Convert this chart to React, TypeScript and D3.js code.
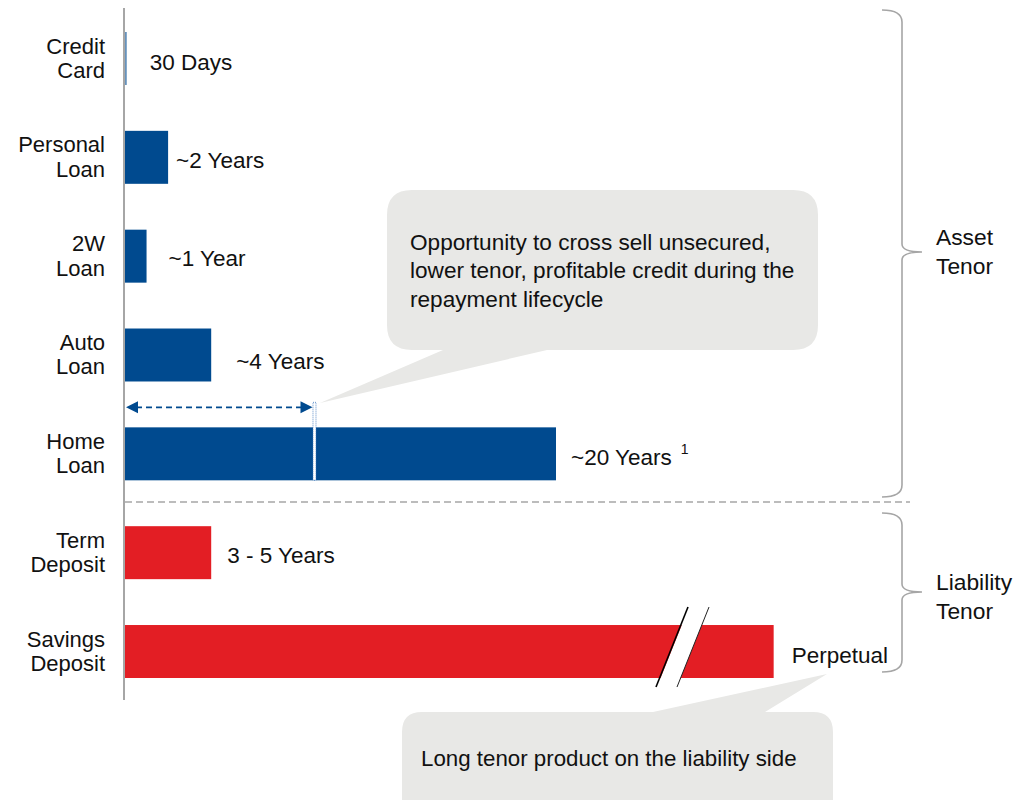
import React from "react";
import * as d3 from "d3";

// Product categories (two-line labels) and their typical tenor in years
const categories = [
  ["Credit", "Card"],
  ["Personal", "Loan"],
  ["2W", "Loan"],
  ["Auto", "Loan"],
  ["Home", "Loan"],
  ["Term", "Deposit"],
  ["Savings", "Deposit"],
];
const tenorYears = [30 / 365, 2, 1, 4, 20, 4, 30.1]; // savings shown capped (perpetual, broken bar)
const valueLabels = ["30 Days", "~2 Years", "~1 Year", "~4 Years", "~20 Years", "3 - 5 Years", "Perpetual"];
const sides = ["asset", "asset", "asset", "asset", "asset", "liability", "liability"];
const crossSellYears = 8.7; // span of the dashed arrow on the home loan
const groupLabels = [["Asset", "Tenor"], ["Liability", "Tenor"]];
const calloutTop = ["Opportunity to cross sell unsecured,", "lower tenor, profitable credit during the", "repayment lifecycle"];
const calloutBottom = "Long tenor product on the liability side";

const W = 1034;
const H = 800;
const BLUE = "#004a8f";
const RED = "#e31e24";
const GREY = "#a6a6a6";
const BUBBLE = "#e8e8e6";
const FONT = "'Liberation Sans', Arial, sans-serif";

// Per-label nudges for the value texts
const labelDx = [23, 8, 22, 25, 15, 16, 18];
const labelDy = [4, 3, 2, 6, 3, 2, 4];

export default function App() {
  const x = d3.scaleLinear().domain([0, 20]).range([125, 556]);
  const y = d3
    .scaleBand<number>()
    .domain(d3.range(categories.length))
    .range([32, 678])
    .paddingInner(0.464)
    .paddingOuter(0);
  const bw = y.bandwidth();
  const cy = (i: number) => (y(i) as number) + bw / 2;

  const homeIdx = 4;
  const savIdx = 6;
  const arrowY = (y(homeIdx) as number) - 20;
  const arrowX1 = x(0) + 1;
  const arrowX2 = x(crossSellYears);

  // Brace path: vertical bracket with a pointed middle toward the right
  const brace = (top: number, mid: number, bottom: number) => {
    const x0 = 882, x1 = 902, tip = 922;
    return `M${x0},${top} Q${x1},${top} ${x1},${top + 12} L${x1},${mid - 8} Q${x1},${mid} ${tip},${mid} Q${x1},${mid} ${x1},${mid + 8} L${x1},${bottom - 12} Q${x1},${bottom} ${x0},${bottom}`;
  };

  const savTop = y(savIdx) as number;

  return (
    <svg
      width={W}
      height={H}
      viewBox={`0 0 ${W} ${H}`}
      style={{ position: "absolute", left: 0, top: 0, background: "#fff" }}
      fontFamily={FONT}
    >
      {/* Callout bubbles */}
      <path
        d={`M${387 + 25},190 H${818 - 25} Q818,190 818,215 V${350 - 25} Q818,350 ${818 - 25},350 H547 L320,403 L443,350 H${387 + 25} Q387,350 387,${350 - 25} V215 Q387,190 ${387 + 25},190 Z`}
        fill={BUBBLE}
      />
      <path
        d={`M${402 + 20},712 H653 L827,674 L765,712 H${833 - 20} Q833,712 833,732 V820 H402 V732 Q402,712 ${402 + 20},712 Z`}
        fill={BUBBLE}
      />
      {calloutTop.map((t, i) => (
        <text key={i} x={410} y={242 + i * 28.5} dy="0.35em" fontSize={22.6} fill="#111">
          {t}
        </text>
      ))}
      <text x={421} y={758} dy="0.35em" fontSize={22.3} fill="#111">
        {calloutBottom}
      </text>

      {/* Bars */}
      {tenorYears.map((v, i) => (
        <rect
          key={i}
          x={x(0)}
          y={y(i)}
          width={Math.max(1, x(v) - x(0))}
          height={bw}
          fill={sides[i] === "asset" ? BLUE : RED}
          opacity={i === 0 ? 0.6 : 1}
        />
      ))}

      {/* Break marks on the savings bar */}
      <polygon
        points={`${657},${savTop + 62} ${689},${savTop - 18} ${709},${savTop - 18} ${677},${savTop + 62}`}
        fill="#fff"
      />
      <line x1={656} y1={savTop + 62} x2={688} y2={savTop - 18} stroke="#000" strokeWidth={1.6} />
      <line x1={677} y1={savTop + 62} x2={709} y2={savTop - 18} stroke="#222" strokeWidth={1} />

      {/* Category axis */}
      <line x1={124} x2={124} y1={8} y2={700} stroke={GREY} strokeWidth={2} />

      {/* Asset / liability separator */}
      <line x1={125} x2={910} y1={502} y2={502} stroke={GREY} strokeWidth={1.3} strokeDasharray="7,4" />

      {/* Cross-sell span arrow */}
      <line
        x1={arrowX1 + 10}
        x2={arrowX2 - 10}
        y1={arrowY}
        y2={arrowY}
        stroke={BLUE}
        strokeWidth={1.6}
        strokeDasharray="6,4"
      />
      <polygon points={`${arrowX1},${arrowY} ${arrowX1 + 12},${arrowY - 6} ${arrowX1 + 12},${arrowY + 6}`} fill={BLUE} />
      <polygon points={`${arrowX2},${arrowY} ${arrowX2 - 12},${arrowY - 6} ${arrowX2 - 12},${arrowY + 6}`} fill={BLUE} />
      <rect
        x={arrowX2 + 0.5}
        y={arrowY - 5}
        width={3}
        height={(y(homeIdx) as number) + bw - (arrowY - 5)}
        fill="#fff"
        stroke="#3a75bd"
        strokeWidth={0.8}
        strokeDasharray="1,1"
      />

      {/* Category labels */}
      {categories.map((lines, i) => (
        <text key={i} x={105} y={cy(i)} textAnchor="end" fontSize={22} fill="#111">
          <tspan x={105} dy="-0.22em">{lines[0]}</tspan>
          <tspan x={105} dy="1.1em">{lines[1]}</tspan>
        </text>
      ))}

      {/* Value labels */}
      {valueLabels.map((t, i) => (
        <text key={i} x={x(tenorYears[i]) + labelDx[i]} y={cy(i) + labelDy[i]} dy="0.35em" fontSize={22.5} fill="#111">
          {t}
          {i === homeIdx ? (
            <tspan fontSize={14} dx={9} dy="-0.75em">
              1
            </tspan>
          ) : null}
        </text>
      ))}

      {/* Braces */}
      <path d={brace(10, 252, 497)} fill="none" stroke={GREY} strokeWidth={1.6} />
      <path d={brace(513, 592, 672)} fill="none" stroke={GREY} strokeWidth={1.6} />
      {groupLabels.map((lines, g) => (
        <text key={g} x={936} y={g === 0 ? 237 : 582} dy="0.35em" fontSize={22.8} fill="#111">
          <tspan x={936}>{lines[0]}</tspan>
          <tspan x={936} dy={29.5}>{lines[1]}</tspan>
        </text>
      ))}
    </svg>
  );
}
